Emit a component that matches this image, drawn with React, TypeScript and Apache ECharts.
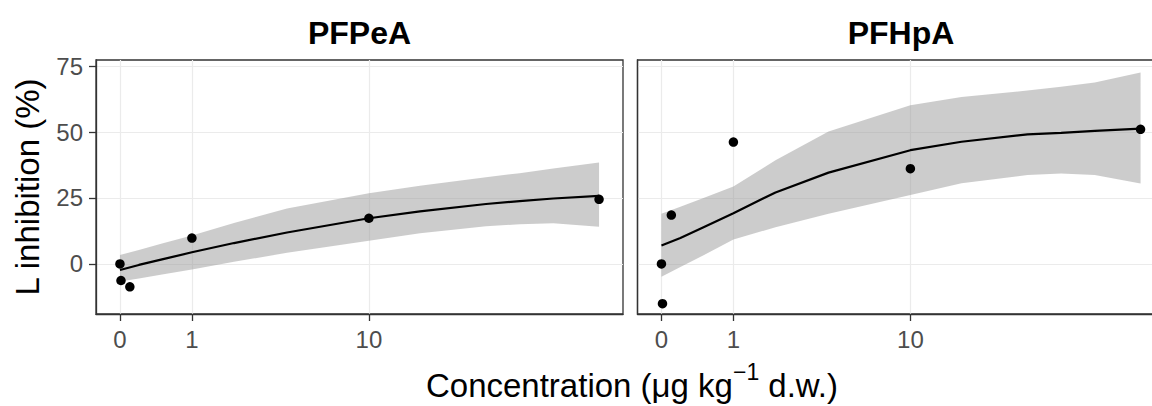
import React, { useEffect, useRef } from 'react';
import * as echarts from 'echarts';

// ---------- data ----------
const panelTitles = ['PFPeA', 'PFHpA'];

const pointConc = [0, 0.01, 0.1, 1, 10, 100];
const pfpeaPoints = [0, -6.3, -8.7, 9.8, 17.3, 24.5];
const pfhpaPoints = [0, -15.1, 18.5, 46.2, 36.1, 51.0];

const fitConc = [0, 0.2, 0.5, 1, 2, 4, 10, 17, 33, 46, 64, 100];
const pfpeaFit = [-2.3, -0.4, 1.7, 4.4, 7.9, 11.9, 17.3, 19.9, 22.7, 23.8, 24.8, 25.8];
const pfpeaLower = [-6.7, -5.5, -4.0, -2.1, 0.8, 4.2, 8.8, 11.6, 14.3, 15.0, 15.4, 14.1];
const pfpeaUpper = [3.4, 5.3, 7.7, 10.8, 15.5, 21.0, 26.8, 29.6, 32.8, 34.4, 36.2, 38.4];
const pfhpaFit = [7.0, 9.8, 13.9, 19.2, 27.1, 34.6, 43.1, 46.3, 49.1, 49.7, 50.4, 51.3];
const pfhpaLower = [-4.9, -1.2, 3.3, 9.2, 13.9, 19.0, 26.1, 30.6, 33.7, 34.3, 33.7, 30.5];
const pfhpaUpper = [19.0, 21.7, 25.0, 29.3, 39.3, 50.2, 60.1, 63.3, 65.7, 67.2, 68.8, 72.6];

const xTickConc = [0, 1, 10];
const yTicks = [0, 25, 50, 75];

const yTitle = 'L inhibition (%)';
const xTitleMain = 'Concentration (μg kg';
const xTitleSup = '−1';
const xTitleEnd = ' d.w.)';

// pseudo-log transform: log10(x + 1)
const tx = (c: number) => Math.log10(c + 1);

const FONT = "'Liberation Sans', Arial, Helvetica, sans-serif";

export default function App() {
  const ref = useRef<HTMLDivElement>(null);

  useEffect(() => {
    if (!ref.current) return;
    const chart = echarts.init(ref.current, null, { renderer: 'svg' });

    const panelLeft = [96, 637.5];
    const panelWidth = 527;
    const panelTop = 60;
    const panelHeight = 254;

    const xTickPos = xTickConc.map(tx);
    const xMin = -0.1002;
    const xMax = 2.1045;

    const panels = [
      { pts: pfpeaPoints, fit: pfpeaFit, lo: pfpeaLower, up: pfpeaUpper },
      { pts: pfhpaPoints, fit: pfhpaFit, lo: pfhpaLower, up: pfhpaUpper },
    ];

    const grid = panelLeft.map((l) => ({
      left: l,
      top: panelTop,
      width: panelWidth,
      height: panelHeight,
      outerBoundsMode: 'none',
      containLabel: false,
      show: true,
      borderColor: '#333333',
      borderWidth: 1.3,
      backgroundColor: 'rgba(0,0,0,0)',
    }));

    const xAxis = panelLeft.map((_, i) => ({
      type: 'value',
      gridIndex: i,
      min: xMin,
      max: xMax,
      axisLine: { show: true, onZero: false, lineStyle: { color: '#333333', width: 1.3 } },
      axisTick: {
        show: true,
        length: 7,
        customValues: xTickPos,
        lineStyle: { color: '#333333', width: 1.3 },
      },
      axisLabel: {
        show: true,
        customValues: xTickPos,
        margin: 13,
        fontSize: 24,
        color: '#4D4D4D',
        fontFamily: FONT,
        formatter: (v: number) => {
          const k = xTickPos.findIndex((p) => Math.abs(p - v) < 1e-6);
          return k >= 0 ? String(xTickConc[k]) : '';
        },
      },
      splitLine: { show: true, lineStyle: { color: '#EBEBEB', width: 1.2 } },
    }));

    const yAxis = panelLeft.map((_, i) => ({
      type: 'value',
      gridIndex: i,
      min: -19,
      max: 77.3,
      axisLine: { show: true, onZero: false, lineStyle: { color: '#333333', width: 1.3 } },
      axisTick: {
        show: i === 0,
        length: 7,
        customValues: yTicks,
        lineStyle: { color: '#333333', width: 1.3 },
      },
      axisLabel: {
        show: i === 0,
        customValues: yTicks,
        margin: 13,
        fontSize: 24,
        color: '#4D4D4D',
        fontFamily: FONT,
      },
      splitLine: { show: true, lineStyle: { color: '#EBEBEB', width: 1.2 } },
    }));

    const series: any[] = [];
    panels.forEach((p, i) => {
      const ribbonData = fitConc.map((c, k) => [tx(c), p.lo[k], p.up[k]]);
      series.push({
        type: 'custom',
        xAxisIndex: i,
        yAxisIndex: i,
        silent: true,
        clip: true,
        z: 1,
        encode: { x: 0, y: [1, 2] },
        data: ribbonData,
        renderItem: (params: any, api: any) => {
          if (params.dataIndex !== 0) return null;
          const upperPts = ribbonData.map((d) => api.coord([d[0], d[2]]));
          const lowerPts = ribbonData
            .slice()
            .reverse()
            .map((d) => api.coord([d[0], d[1]]));
          return {
            type: 'polygon',
            shape: { points: upperPts.concat(lowerPts) },
            style: { fill: 'rgba(153,153,153,0.5)', stroke: 'none' },
          };
        },
      });
      series.push({
        type: 'line',
        xAxisIndex: i,
        yAxisIndex: i,
        symbol: 'none',
        silent: true,
        lineStyle: { color: '#000000', width: 2.2 },
        data: fitConc.map((c, k) => [tx(c), p.fit[k]]),
        z: 2,
      });
      series.push({
        type: 'scatter',
        xAxisIndex: i,
        yAxisIndex: i,
        symbol: 'circle',
        symbolSize: 9.5,
        silent: true,
        itemStyle: { color: '#000000', opacity: 1 },
        data: pointConc.map((c, k) => [tx(c), p.pts[k]]),
        z: 3,
      });
    });

    const graphic: any[] = [
      ...panelTitles.map((t, i) => ({
        type: 'text',
        x: panelLeft[i] + panelWidth / 2,
        y: 33,
        style: {
          text: t,
          fontSize: 32,
          fontWeight: 'bold',
          fontFamily: FONT,
          fill: '#000000',
          align: 'center',
          verticalAlign: 'middle',
        },
      })),
      {
        type: 'text',
        x: 27,
        y: panelTop + panelHeight / 2,
        rotation: Math.PI / 2,
        style: {
          text: yTitle,
          fontSize: 33,
          fontFamily: FONT,
          fill: '#000000',
          align: 'center',
          verticalAlign: 'middle',
        },
      },
      {
        type: 'text',
        x: 632,
        y: 385,
        style: {
          text: `{a|${xTitleMain}}{s|${xTitleSup}}{a|${xTitleEnd}}`,
          align: 'center',
          verticalAlign: 'middle',
          rich: {
            a: { fontSize: 33, lineHeight: 50, fontFamily: FONT, fill: '#000000' },
            s: { fontSize: 23, lineHeight: 24, verticalAlign: 'top', fontFamily: FONT, fill: '#000000' },
          },
        },
      },
    ];

    chart.setOption({
      animation: false,
      backgroundColor: '#ffffff',
      grid,
      xAxis,
      yAxis,
      series,
      graphic,
    });

    return () => chart.dispose();
  }, []);

  return (
    <div
      ref={ref}
      style={{ position: 'absolute', left: 0, top: 0, width: 1152, height: 406, background: '#ffffff' }}
    />
  );
}
